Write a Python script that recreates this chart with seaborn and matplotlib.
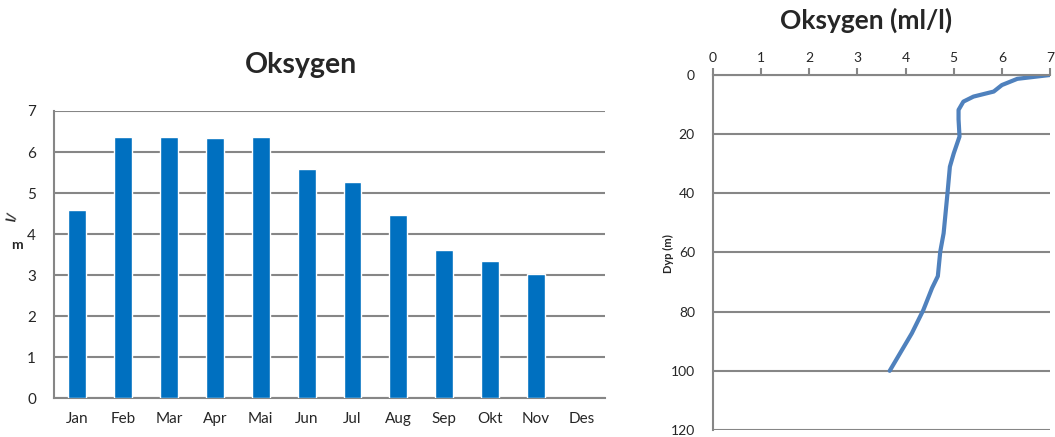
import matplotlib
matplotlib.use("Agg")
import matplotlib.pyplot as plt
import seaborn as sns
import pandas as pd
import numpy as np

# monthly oxygen (ml/l)
months = ["Jan", "Feb", "Mar", "Apr", "Mai", "Jun", "Jul", "Aug", "Sep", "Okt", "Nov", "Des"]
oxygen_month = [4.59, 6.37, 6.37, 6.33, 6.37, 5.59, 5.28, 4.46, 3.61, 3.33, 3.02, np.nan]

# depth profile
depth = [0, 1.3, 3.4, 5.6, 7.3, 9, 11.8, 15, 20.8, 26.5, 31, 40, 53.5, 59.7, 68, 72, 79.4, 87.3, 100]
oxygen_depth = [7.0, 6.32, 6.0, 5.83, 5.41, 5.2, 5.1, 5.1, 5.12, 5.0, 4.92, 4.87, 4.79, 4.72, 4.67, 4.55, 4.37, 4.13, 3.67]

sns.set_style("white")
plt.rcParams["font.family"] = ["Lato", "DejaVu Sans"]

grid_c = "#868686"
fig = plt.figure(figsize=(10.55, 4.37), dpi=100)

# left: bar chart
ax1 = fig.add_axes([0.0512, 0.0892, 0.5223, 0.6568])
df = pd.DataFrame({"month": months, "oxygen": oxygen_month})
sns.barplot(data=df, x="month", y="oxygen", order=months, color="#0070C0",
            saturation=1, width=0.39, ax=ax1, zorder=3)
ax1.set_xlim(-0.5, 11.5)
ax1.set_ylim(0, 7)
ax1.set_yticks(range(0, 8))
ax1.yaxis.grid(True, color=grid_c, linewidth=1.5, zorder=0)
ax1.set_axisbelow(True)
for s in ["top", "right"]:
    ax1.spines[s].set_visible(False)
for s in ["left", "bottom"]:
    ax1.spines[s].set_color(grid_c)
    ax1.spines[s].set_linewidth(1.5)
ax1.tick_params(axis="y", length=5, color=grid_c, width=1.5, labelsize=11, pad=8)
ax1.tick_params(axis="x", length=0, labelsize=11, pad=10)
ax1.set_xlabel("")
ax1.set_ylabel("")
fig.text(0.285, 0.852, "Oksygen", ha="center", va="center", fontsize=20.5, fontweight="bold")
fig.text(0.011, 0.505, "l/", rotation=80, ha="center", va="center", fontsize=10, fontweight="bold")
fig.text(0.016, 0.44, "m", ha="center", va="center", fontsize=10, fontweight="bold")

# right: depth profile
ax2 = fig.add_axes([0.6758, 0.016, 0.3195, 0.8124])
prof = pd.DataFrame({"depth": depth, "oxygen": oxygen_depth})
sns.lineplot(data=prof, x="oxygen", y="depth", sort=False, orient="y",
             color="#4F81BD", linewidth=3, ax=ax2)
ax2.set_xlim(0, 7)
ax2.set_ylim(120, 0)
ax2.set_yticks(range(0, 121, 20))
ax2.set_xticks(range(0, 8))
ax2.xaxis.tick_top()
ax2.yaxis.grid(True, color=grid_c, linewidth=1.5)
ax2.set_axisbelow(True)
for s in ["bottom", "right"]:
    ax2.spines[s].set_visible(False)
for s in ["left", "top"]:
    ax2.spines[s].set_color(grid_c)
    ax2.spines[s].set_linewidth(1.5)
ax2.tick_params(axis="y", length=5, color=grid_c, width=1.5, labelsize=10, pad=8)
ax2.tick_params(axis="x", length=5, color=grid_c, width=1.5, labelsize=10, pad=3)
ax2.set_xlabel("")
ax2.set_ylabel("")
fig.text(0.821, 0.954, "Oksygen (ml/l)", ha="center", va="center", fontsize=19, fontweight="bold")
fig.text(0.634, 0.42, "Dyp (m)", rotation=90, ha="center", va="center", fontsize=8, fontweight="bold")

fig.savefig("out.png", dpi=100)
